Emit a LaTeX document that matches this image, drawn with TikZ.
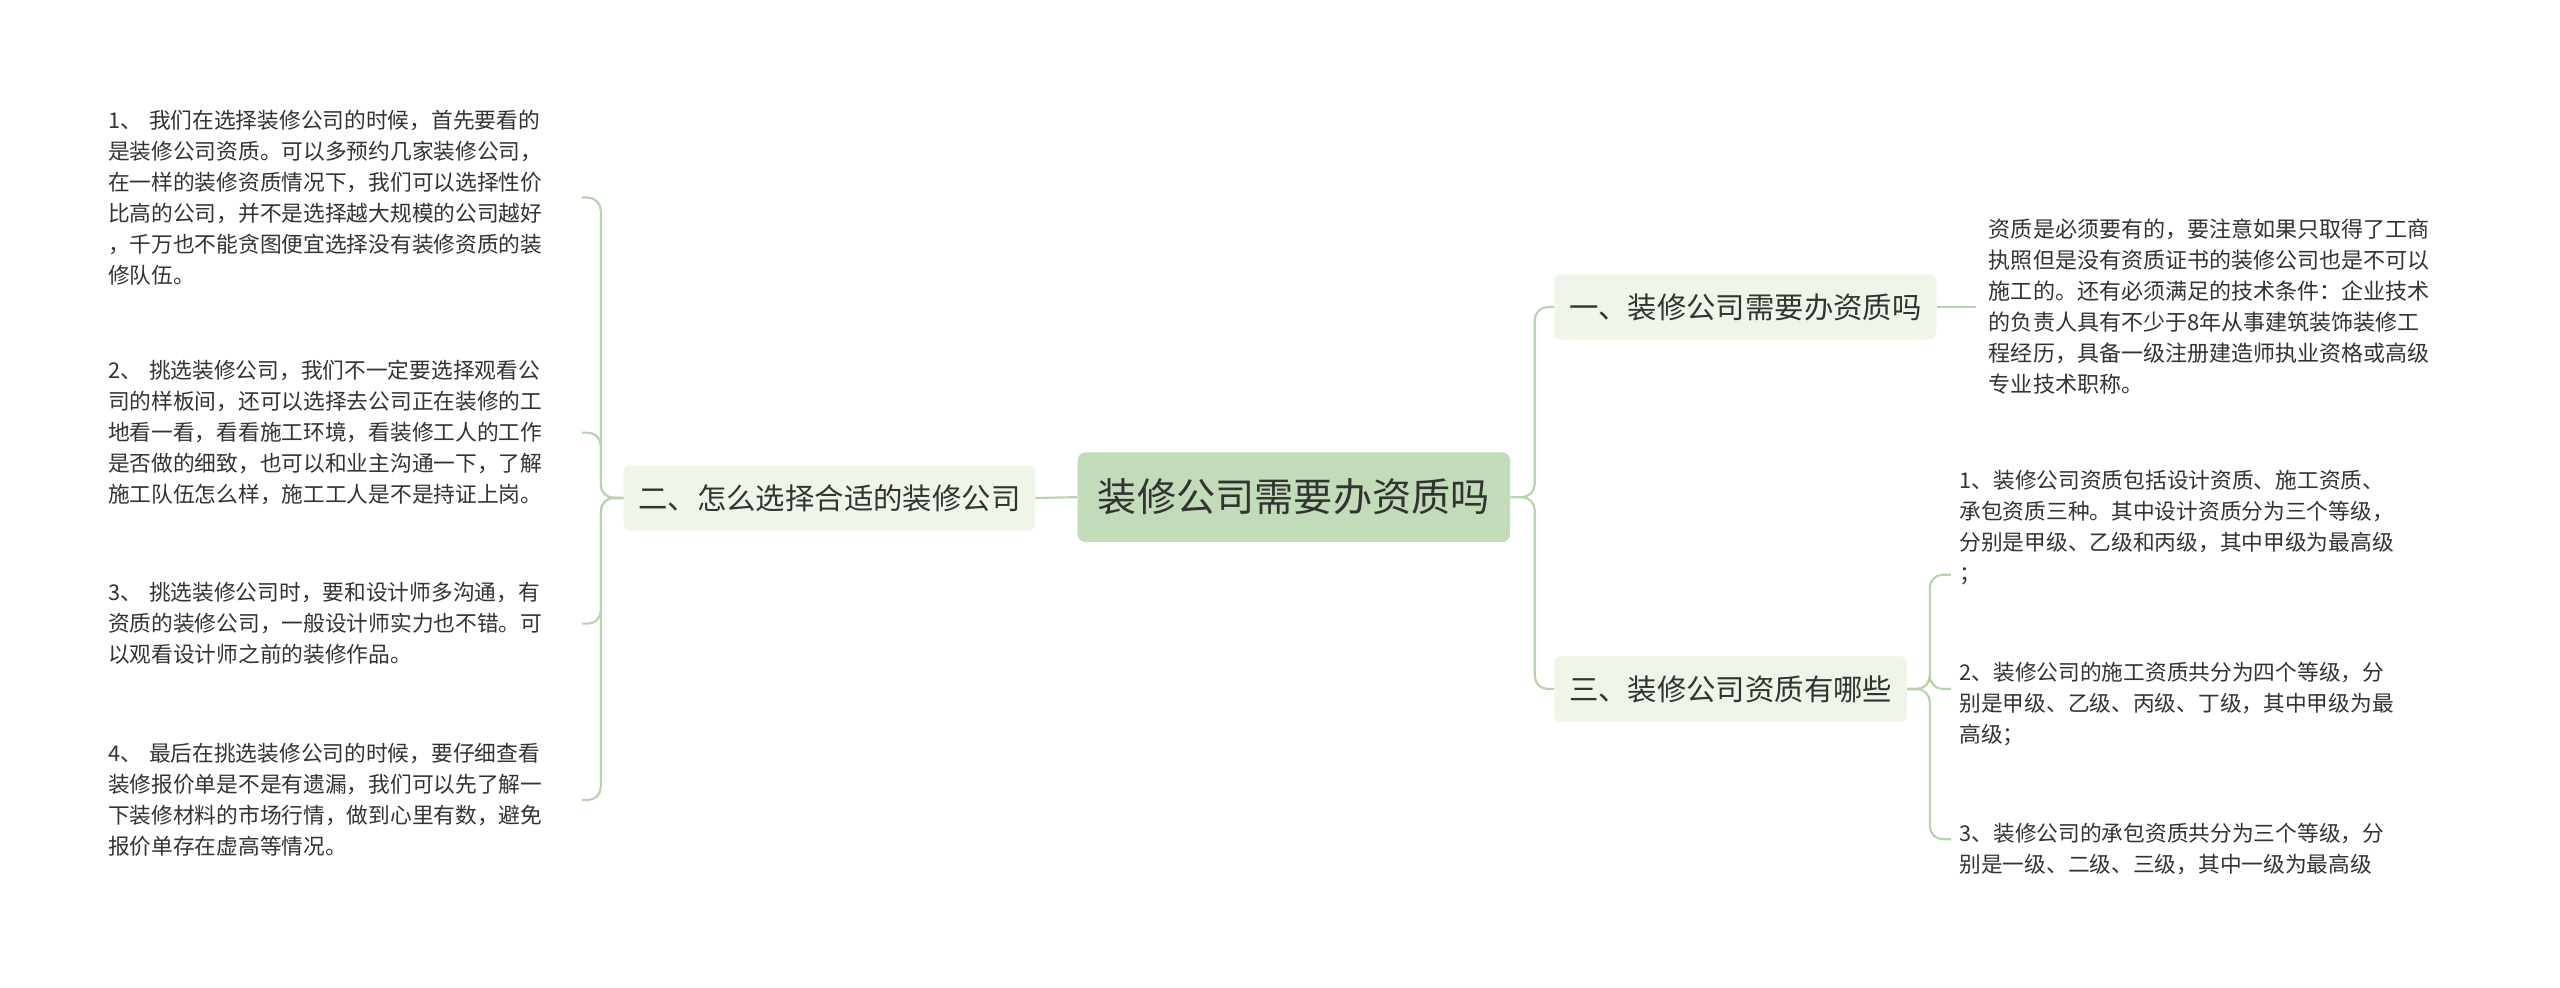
\documentclass[tikz,border=0pt]{standalone}
\usepackage{fontspec}
\setmainfont{Noto Sans CJK SC}
\begin{document}
\begin{tikzpicture}[x=1pt,y=-1pt,
  line/.style={draw=linec,line width=1.3pt,rounded corners=8pt},
  leaf/.style={inner sep=0pt,align=left,text=txt,font=\fontsize{13.3}{19}\selectfont},
  br/.style={fill=brf,rounded corners=4pt,text=txt,font=\fontsize{18}{20}\selectfont,minimum height=40pt,inner xsep=6pt}]
\definecolor{linec}{HTML}{B7D4AE}
\definecolor{rootf}{HTML}{C2DBB8}
\definecolor{brf}{HTML}{EEF5E9}
\definecolor{txt}{HTML}{333333}
\useasboundingbox[fill=white] (0,0) rectangle (1568,605);
\node[fill=rootf,rounded corners=5pt,text=txt,font=\fontsize{24}{28}\selectfont,minimum width=265pt,minimum height=55pt] (root) at (792.5,304.5) {装修公司需要办资质吗};
\node[br,minimum width=252pt] (b2) at (508,305) {二、怎么选择合适的装修公司};
\node[br,minimum width=234pt] (b1) at (1069,188) {一、装修公司需要办资质吗};
\node[br,minimum width=216pt] (b3) at (1060,422) {三、装修公司资质有哪些};
\draw[line] (root.west) -- (b2.east);
\draw[line] (root.east) -- (940,304.5) |- (b1.west);
\draw[line] (root.east) -- (940,304.5) |- (b3.west);
% left leaves
\node[leaf,text width=290pt,anchor=west] (l1) at (66,121) {1、 我们在选择装修公司的时候，首先要看的\\是装修公司资质。可以多预约几家装修公司，\\在一样的装修资质情况下，我们可以选择性价\\比高的公司，并不是选择越大规模的公司越好\\，千万也不能贪图便宜选择没有装修资质的装\\修队伍。};
\node[leaf,text width=290pt,anchor=west] (l2) at (66,265) {2、 挑选装修公司，我们不一定要选择观看公\\司的样板间，还可以选择去公司正在装修的工\\地看一看，看看施工环境，看装修工人的工作\\是否做的细致，也可以和业主沟通一下，了解\\施工队伍怎么样，施工工人是不是持证上岗。};
\node[leaf,text width=290pt,anchor=west] (l3) at (66,382) {3、 挑选装修公司时，要和设计师多沟通，有\\资质的装修公司，一般设计师实力也不错。可\\以观看设计师之前的装修作品。};
\node[leaf,text width=290pt,anchor=west] (l4) at (66,490) {4、 最后在挑选装修公司的时候，要仔细查看\\装修报价单是不是有遗漏，我们可以先了解一\\下装修材料的市场行情，做到心里有数，避免\\报价单存在虚高等情况。};
\foreach \n in {l1,l2,l3,l4}{\draw[line] (b2.west) -- (368,305) |- (\n.east);}
% right leaves
\node[leaf,text width=292pt,anchor=west,font=\fontsize{13.5}{19}\selectfont] (r1) at (1218,188) {资质是必须要有的，要注意如果只取得了工商\\执照但是没有资质证书的装修公司也是不可以\\施工的。还有必须满足的技术条件：企业技术\\的负责人具有不少于8年从事建筑装饰装修工\\程经历，具备一级注册建造师执业资格或高级\\专业技术职称。};
\draw[line] (b1.east) -- ([xshift=-8pt]r1.west);
\node[leaf,text width=300pt,anchor=west] (r2) at (1200,323) {1、装修公司资质包括设计资质、施工资质、\\承包资质三种。其中设计资质分为三个等级，\\分别是甲级、乙级和丙级，其中甲级为最高级\\；};
\node[leaf,text width=300pt,anchor=west] (r3) at (1200,431) {2、装修公司的施工资质共分为四个等级，分\\别是甲级、乙级、丙级、丁级，其中甲级为最\\高级；};
\node[leaf,text width=300pt,anchor=west] (r4) at (1200,520) {3、装修公司的承包资质共分为三个等级，分\\别是一级、二级、三级，其中一级为最高级};
\coordinate (e2) at (1195,352);
\coordinate (e3) at (1195,422);
\coordinate (e4) at (1195,514);
\foreach \n in {e2,e3,e4}{\draw[line] (b3.east) -- (1182,422) |- (\n);}
\end{tikzpicture}
\end{document}
